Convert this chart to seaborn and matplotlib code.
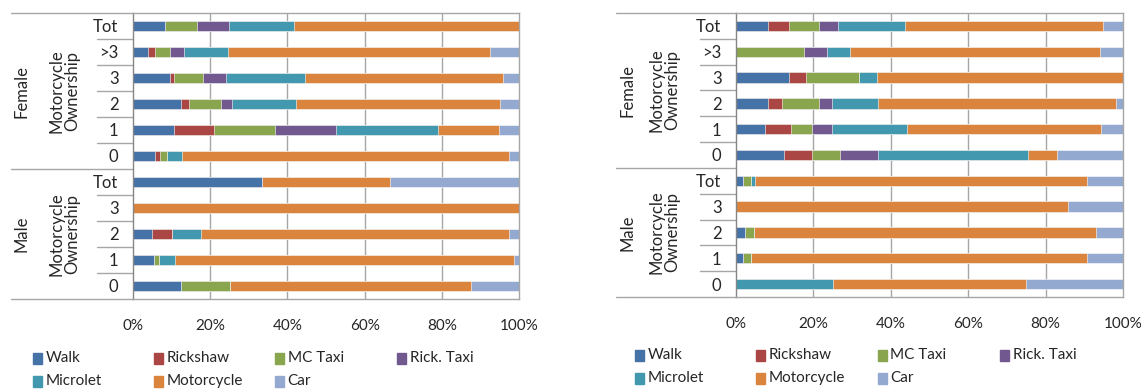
import numpy as np
import pandas as pd
import matplotlib
matplotlib.use("Agg")
import matplotlib.pyplot as plt
import seaborn as sns
from matplotlib.patches import Rectangle
from matplotlib.transforms import blended_transform_factory

# ---------------- data ----------------
modes = ["Walk", "Rickshaw", "MC Taxi", "Rick. Taxi", "Microlet", "Motorcycle", "Car"]
colors = ["#4572A7", "#AA4643", "#89A54E", "#71588F", "#4198AF", "#DB843D", "#93A9CF"]
rows = ["Tot", ">3", "3", "2", "1", "0", "Tot", "3", "2", "1", "0"]
groups = ["Female"] * 6 + ["Male"] * 5
group_names = ["Female", "Male"]
level2_label = "Motorcycle\nOwnership"
xticks = [0, 20, 40, 60, 80, 100]
xtick_labels = ["0%", "20%", "40%", "60%", "80%", "100%"]

# left panel (share of trips, %)
L_walk       = [8.3, 3.8, 9.7, 12.5, 10.5, 5.7, 33.4, 0, 5.0, 5.5, 12.5]
L_rickshaw   = [0, 2.0, 1.05, 2.1, 10.5, 1.3, 0, 0, 5.0, 0, 0]
L_mctaxi     = [8.3, 3.7, 7.3, 8.3, 15.9, 1.7, 0, 0, 0, 1.3, 12.5]
L_ricktaxi   = [8.3, 3.6, 6.1, 2.7, 15.7, 0, 0, 0, 0, 0, 0]
L_microlet   = [16.7, 11.6, 20.5, 16.7, 26.4, 4.1, 0, 0, 7.5, 4.2, 0]
L_motorcycle = [58.4, 67.9, 51.3, 52.8, 15.7, 84.5, 33.3, 100, 80.0, 87.6, 62.5]
L_car        = [0, 7.4, 4.0, 4.8, 5.3, 2.7, 33.3, 0, 2.5, 1.4, 12.5]

# right panel (share of trips, %)
R_walk       = [8.3, 0, 13.7, 8.3, 7.5, 12.3, 1.9, 0, 2.2, 1.9, 0]
R_rickshaw   = [5.4, 0, 4.5, 3.6, 6.8, 7.3, 0, 0, 0, 0, 0]
R_mctaxi     = [7.7, 17.7, 13.7, 9.6, 5.3, 7.3, 2.0, 0, 2.4, 2.0, 0]
R_ricktaxi   = [4.9, 5.8, 0, 3.4, 5.3, 9.8, 0, 0, 0, 0, 0]
R_microlet   = [17.4, 5.9, 4.5, 11.8, 19.2, 38.8, 1.0, 0, 0, 0, 25]
R_motorcycle = [51.2, 64.7, 63.6, 61.5, 50.2, 7.5, 85.9, 85.8, 88.5, 86.7, 50]
R_car        = [5.1, 5.9, 0, 1.8, 5.7, 17.0, 9.2, 14.2, 6.9, 9.4, 25]

left_series = [L_walk, L_rickshaw, L_mctaxi, L_ricktaxi, L_microlet, L_motorcycle, L_car]
right_series = [R_walk, R_rickshaw, R_mctaxi, R_ricktaxi, R_microlet, R_motorcycle, R_car]

# ---------------- style ----------------
sns.set_theme(style="white")
plt.rcParams["font.family"] = ["Lato", "DejaVu Sans"]
FS = 11
FSY = 12
W, H = 1148, 392
GRID = "#a6a6a6"
AXC = "#868686"

fig = plt.figure(figsize=(W / 100, H / 100), dpi=100)


def px_axes(l, t, r, b):
    return fig.add_axes([l / W, 1 - b / H, (r - l) / W, (b - t) / H])


def draw_panel(ax, series, x_outer, x_inner, x_grp, x_lvl2):
    rid = [f"r{i}" for i in range(len(rows))]
    df = pd.DataFrame({"rid": rid})
    cum = np.cumsum(np.array(series, dtype=float), axis=0)
    for k in range(len(modes)):
        df[f"c{k}"] = cum[k]
    for k in range(len(modes) - 1, -1, -1):
        sns.barplot(data=df, x=f"c{k}", y="rid", order=rid, orient="h",
                    color=colors[k], saturation=1, width=0.4, errorbar=None,
                    edgecolor="white", linewidth=0.4, ax=ax)
    ax.set_xlim(0, 100)
    ax.set_ylim(len(rows) - 0.5, -0.5)
    ax.set_xlabel("")
    ax.set_ylabel("")
    ax.set_xticks(xticks)
    ax.set_xticklabels(xtick_labels, fontsize=FS)
    ax.set_yticks(range(len(rows)))
    ax.set_yticklabels(rows, fontsize=FSY)
    ax.tick_params(axis="y", length=0, pad=10.5)
    ax.tick_params(axis="x", length=4.5, width=0.8, color=GRID, pad=10)
    for v in xticks[1:-1]:
        ax.axvline(v, color=GRID, lw=1, zorder=0)
    for s in ["top", "right", "bottom"]:
        ax.spines[s].set_color(GRID)
        ax.spines[s].set_linewidth(1)
    ax.spines["left"].set_color(AXC)
    ax.spines["left"].set_linewidth(1)
    ax.set_axisbelow(True)

    tr = blended_transform_factory(ax.transAxes, ax.transData)
    n = len(rows)
    # category separators
    for i in range(n - 1):
        xs = x_outer if groups[i] != groups[i + 1] else x_inner
        ax.plot([xs, 0], [i + 0.5, i + 0.5], transform=tr, color=GRID,
                lw=1, clip_on=False)
    ax.plot([x_outer, 0], [-0.5, -0.5], transform=tr, color=GRID, lw=1, clip_on=False)
    ax.plot([x_outer, 0], [n - 0.5, n - 0.5], transform=tr, color=GRID, lw=1, clip_on=False)
    # group labels
    for g in group_names:
        idx = [i for i, gg in enumerate(groups) if gg == g]
        yc = (idx[0] + idx[-1]) / 2
        ax.text(x_grp, yc, g, transform=tr, rotation=90, ha="center",
                va="center", fontsize=FSY)
        ax.text(x_lvl2, yc, level2_label, transform=tr, rotation=90,
                ha="center", va="center", fontsize=FSY, linespacing=1.0,
                multialignment="center")


axL = px_axes(133, 13, 519, 299)
draw_panel(axL, left_series, (11 - 133) / 386, (97 - 133) / 386,
           (22 - 133) / 386, (64 - 133) / 386)
axR = px_axes(736, 13, 1123, 297)
draw_panel(axR, right_series, (616 - 736) / 387, (700 - 736) / 387,
           (627 - 736) / 387, (664 - 736) / 387)


def draw_legend(xs, ys):
    for k, m in enumerate(modes):
        col, row = k % 4, k // 4
        x, y = xs[col], ys[row]
        fig.add_artist(Rectangle((x / W, 1 - (y + 5.5) / H), 9 / W, 11 / H,
                                 transform=fig.transFigure, color=colors[k]))
        fig.text((x + 12.5) / W, 1 - y / H, m, ha="left", va="center",
                 fontsize=FS)


draw_legend([33, 154, 275, 397], [358, 381])
draw_legend([635, 756, 878, 1000], [355, 378])

fig.savefig("out.png", dpi=100, facecolor="white")
